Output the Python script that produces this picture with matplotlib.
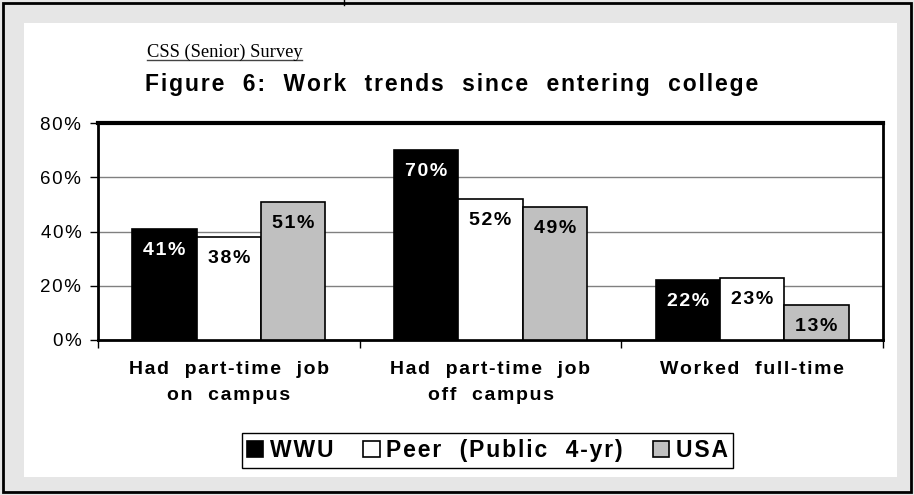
import matplotlib.pyplot as plt
from matplotlib.patches import Rectangle
from matplotlib.lines import Line2D
import numpy as np

plt.rcParams['font.family'] = ['Liberation Sans', 'DejaVu Sans']

# data
categories = ['Had  part-time  job\non  campus', 'Had  part-time  job\noff  campus', 'Worked  full-time']
series = ['WWU', 'Peer  (Public  4-yr)', 'USA']
wwu = [41, 70, 22]
peer = [38, 52, 23]
usa = [51, 49, 13]
colors = ['black', 'white', '#c0c0c0']
label_colors = ['white', 'black', 'black']


def sp(s, gap='\u200a'):
    # the source chart uses loose letter spacing
    return '\n'.join(gap.join(line) for line in s.split('\n'))


W, H = 914, 495
fig = plt.figure(figsize=(9.14, 4.95), dpi=100)
fig.patch.set_facecolor('#e6e6e6')

# white inner panel and outer frame
fig.add_artist(Rectangle((24 / W, 1 - 477 / H), (897 - 24) / W, (477 - 23) / H,
                         transform=fig.transFigure, facecolor='white', edgecolor='none', zorder=0))
fig.add_artist(Rectangle((3 / W, 1 - 492 / H), (911 - 3) / W, (492 - 3) / H,
                         transform=fig.transFigure, facecolor='none', edgecolor='black', lw=2, zorder=1))
fig.add_artist(Line2D([344 / W, 344 / W], [1, 1 - 5 / H], transform=fig.transFigure, color='black', lw=1))

ax = fig.add_axes([98 / W, 1 - 340 / H, (883 - 98) / W, (340 - 123) / H])
ax.set_facecolor('white')

x = np.arange(len(categories))
bw = 0.246
for i, (vals, c, lc) in enumerate(zip([wwu, peer, usa], colors, label_colors)):
    pos = x + (i - 1) * bw
    ax.bar(pos, vals, width=bw, color=c, edgecolor='black', linewidth=1.2, label=sp(series[i]), zorder=3)
    for px, v in zip(pos, vals):
        ax.annotate(sp(f'{v}%'), (px, v), xytext=(0, -13), textcoords='offset pixels',
                    ha='center', va='top', fontsize=14, fontweight='bold', color=lc, zorder=4)

ax.set_ylim(0, 80)
ax.set_xlim(-0.5, 2.5)
ax.set_yticks([0, 20, 40, 60, 80])
ax.set_yticklabels([sp(t) for t in ['0%', '20%', '40%', '60%', '80%']], fontsize=13.5)
ax.yaxis.grid(True, color='#808080', linewidth=1)
ax.set_axisbelow(True)

ax.set_xticks([-0.5, 0.5, 1.5, 2.5])
ax.set_xticklabels([])
ax.set_xticks(x, minor=True)
ax.set_xticklabels([sp(c) for c in categories], minor=True, fontsize=14, fontweight='bold', linespacing=1.7)
ax.tick_params(axis='x', which='minor', length=0, pad=15)
ax.tick_params(axis='x', which='major', length=6, width=1, direction='out')
ax.tick_params(axis='y', length=6, width=1, direction='out', pad=6)

for side in ['left', 'right', 'bottom']:
    ax.spines[side].set_linewidth(2)
ax.spines['top'].set_linewidth(3)

fig.text(147 / W, 1 - 57 / H, 'CSS (Senior) Survey', family='Liberation Serif', fontsize=13.3,
         ha='left', va='baseline')
fig.add_artist(Line2D([147 / W, 302 / W], [1 - 60 / H, 1 - 60 / H], transform=fig.transFigure,
                      color='#444444', lw=1))
fig.text(452 / W, 1 - 85 / H, sp('Figure  6:  Work  trends  since  entering  college'),
         fontsize=16.5, fontweight='bold', ha='center', va='center')

leg = fig.legend(loc='center', bbox_to_anchor=(487.5 / W, 1 - 450.5 / H), ncol=3,
                 frameon=True, fancybox=False, edgecolor='black', framealpha=1,
                 prop={'size': 16.5, 'weight': 'bold'}, handlelength=0.7, handleheight=0.7,
                 handletextpad=0.3, columnspacing=1.3, borderpad=0.25, borderaxespad=0)
leg.get_frame().set_linewidth(1)

fig.savefig('out.png', dpi=100, facecolor=fig.get_facecolor())
